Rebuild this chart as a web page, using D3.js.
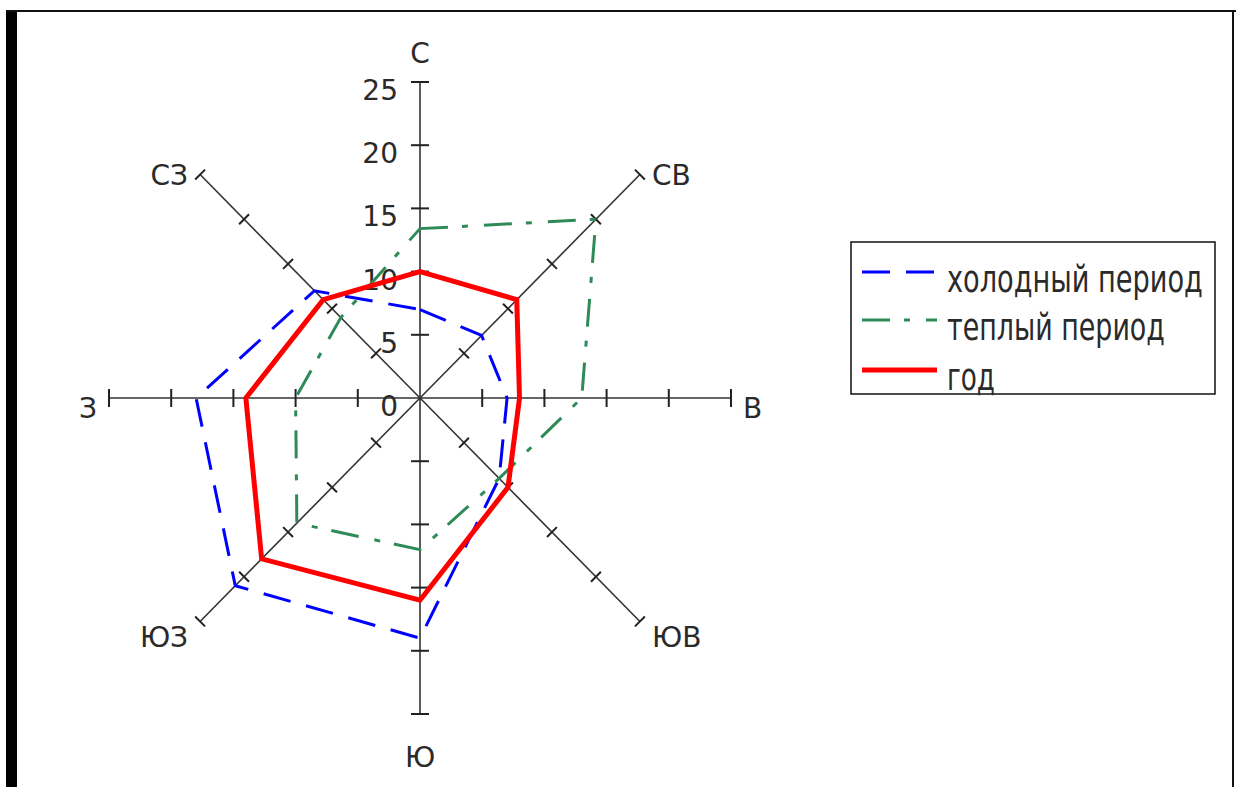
<!DOCTYPE html>
<html>
<head>
<meta charset="utf-8">
<script src="https://cdn.jsdelivr.net/npm/d3@7"></script>
<style>
  body { margin: 0; background: #fff; }
  text { font-family: "DejaVu Sans", sans-serif; fill: #2a2a2a; }
</style>
</head>
<body>
<svg id="chart" width="1236" height="787"></svg>
<script>
// wind rose: directions clockwise from north
var directions = ['С', 'СВ', 'В', 'ЮВ', 'Ю', 'ЮЗ', 'З', 'СЗ']
var coldValues = [7, 7, 7, 9, 19, 21, 18, 12]
var warmValues = [13.4, 20, 13, 9, 12, 14, 10, 9]
var yearValues = [10, 11, 8, 10, 16, 18, 14, 11]
var tickValues = [0, 5, 10, 15, 20, 25]
var seriesNames = ['холодный период', 'теплый период', 'год']

var svg = d3.select('#chart')
var cx = 420
var cy = 398

// picture is slightly stretched vertically, so two radial scales
var rx = d3.scaleLinear().domain([0, 25]).range([0, 311])
var ry = d3.scaleLinear().domain([0, 25]).range([0, 316])

function pos (i, v) {
  var a = i * Math.PI / 4
  return [cx + rx(v) * Math.sin(a), cy - ry(v) * Math.cos(a)]
}

// frame
svg.append('rect').attr('x', 6).attr('y', 10).attr('width', 11).attr('height', 800).attr('fill', '#000')
svg.append('rect').attr('x', 6).attr('y', 10).attr('width', 1230).attr('height', 2).attr('fill', '#111')
svg.append('rect').attr('x', 1232).attr('y', 10).attr('width', 2).attr('height', 800).attr('fill', '#111')

var axes = svg.append('g')

directions.forEach(function (d, i) {
  var end = pos(i, 25)
  axes.append('line')
    .attr('x1', cx).attr('y1', cy)
    .attr('x2', end[0]).attr('y2', end[1])
    .attr('stroke', '#333')
    .attr('stroke-width', 1.6)

  var a = i * Math.PI / 4
  var diag = i % 2 === 1
  var half = diag ? 7 : 9
  // perpendicular direction
  var px = Math.cos(a)
  var py = Math.sin(a)

  tickValues.slice(1).forEach(function (t) {
    var p = pos(i, t)
    axes.append('line')
      .attr('x1', p[0] - px * half).attr('y1', p[1] - py * half)
      .attr('x2', p[0] + px * half).attr('y2', p[1] + py * half)
      .attr('stroke', '#222')
      .attr('stroke-width', 2)
  })

  // direction label
  var sx = Math.round(Math.sin(a) * 100) / 100
  var cy0 = Math.round(Math.cos(a) * 100) / 100
  var lx = end[0]
  var ly = end[1]
  var anchor = 'middle'
  if (sx > 0) { anchor = 'start'; lx += 12 }
  if (sx < 0) { anchor = 'end'; lx -= 12 }
  if (cy0 > 0.9) ly -= 19
  else if (cy0 < -0.9) ly += 53
  else if (cy0 > 0) ly += 10
  else if (cy0 < 0) ly += 26
  else ly += 20
  svg.append('text')
    .attr('x', lx).attr('y', ly)
    .attr('text-anchor', anchor)
    .attr('font-size', 28)
    .text(d)
})

// numeric labels on the north axis
svg.selectAll('.tick-label')
  .data(tickValues)
  .enter().append('text')
    .attr('class', 'tick-label')
    .attr('x', 398)
    .attr('y', function (t) { return pos(0, t)[1] + 18 })
    .attr('text-anchor', 'end')
    .attr('font-size', 28)
    .text(function (t) { return t })

var line = d3.line().curve(d3.curveLinearClosed)

var series = [
  { name: seriesNames[0], values: coldValues, color: '#0000ff', width: 3, dash: '28,16' },
  { name: seriesNames[1], values: warmValues, color: '#2e8b57', width: 3, dash: '28,14,6,16' },
  { name: seriesNames[2], values: yearValues, color: '#ff0000', width: 5, dash: null }
]

svg.selectAll('.series')
  .data(series)
  .enter().append('path')
    .attr('class', 'series')
    .attr('d', function (s) {
      return line(s.values.map(function (v, i) { return pos(i, v) }))
    })
    .attr('fill', 'none')
    .attr('stroke', function (s) { return s.color })
    .attr('stroke-width', function (s) { return s.width })
    .attr('stroke-dasharray', function (s) { return s.dash })
    .attr('stroke-linejoin', 'miter')

// legend
var legend = svg.append('g')
legend.append('rect')
  .attr('x', 851).attr('y', 242)
  .attr('width', 364).attr('height', 152)
  .attr('fill', '#fff')
  .attr('stroke', '#111')
  .attr('stroke-width', 1.5)

var legendY = [272, 320, 370]
var legendW = [256, 218, 48]

series.forEach(function (s, i) {
  legend.append('line')
    .attr('x1', 862).attr('x2', 937)
    .attr('y1', legendY[i]).attr('y2', legendY[i])
    .attr('stroke', s.color)
    .attr('stroke-width', s.width)
    .attr('stroke-dasharray', s.dash)
  // the legend text is narrow and tall, so squeeze it horizontally
  var t = legend.append('text')
    .attr('x', 0).attr('y', 0)
    .attr('font-size', 37)
    .text(s.name)
  var w = t.node().getComputedTextLength()
  t.attr('transform', 'translate(947,' + (legendY[i] + 20) + ') scale(' + (legendW[i] / w) + ',1)')
})
</script>
</body>
</html>
